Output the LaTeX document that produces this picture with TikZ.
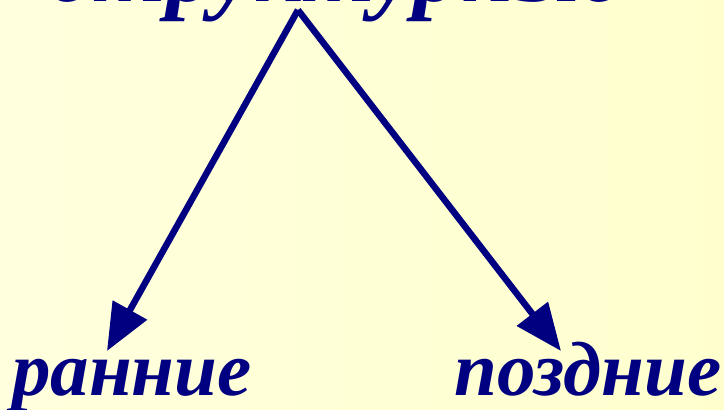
\documentclass[tikz,border=0pt]{standalone}
\usepackage{fontspec}
\setmainfont{Liberation Serif}
\usetikzlibrary{arrows.meta}

\definecolor{bgleft}{RGB}{255,255,222}
\definecolor{bgright}{RGB}{255,255,206}
\definecolor{inkblue}{RGB}{0,0,128}

\begin{document}
\begin{tikzpicture}[
    x=1pt, y=-1pt,
    word/.style={inner sep=0pt, anchor=base, text=inkblue, font=\fontsize{77}{80}\selectfont\bfseries\itshape},
    arrow/.style={-{Triangle[length=47pt, width=38pt]}, line width=6.5pt, draw=inkblue, line join=miter},
]
    % Background
    \shade[left color=bgleft, right color=bgright] (0,0) rectangle (724,410);
    \useasboundingbox (0,0) rectangle (724,410);

    % Words
    \node[word, font=\fontsize{95}{100}\selectfont\bfseries\itshape] (struct) at (336,1) {структурные};
    \node[word] (early) at (132,395) {ранние};
    \node[word] (late) at (588,395) {поздние};

    % Arrow ends
    \coordinate (apex) at (298,10);
    \coordinate (earlytip) at (107,351);
    \coordinate (latetip) at (561,351);

    % Arrows
    \draw[arrow] (apex) -- (earlytip);
    \draw[arrow] (apex) -- (latetip);
\end{tikzpicture}
\end{document}
